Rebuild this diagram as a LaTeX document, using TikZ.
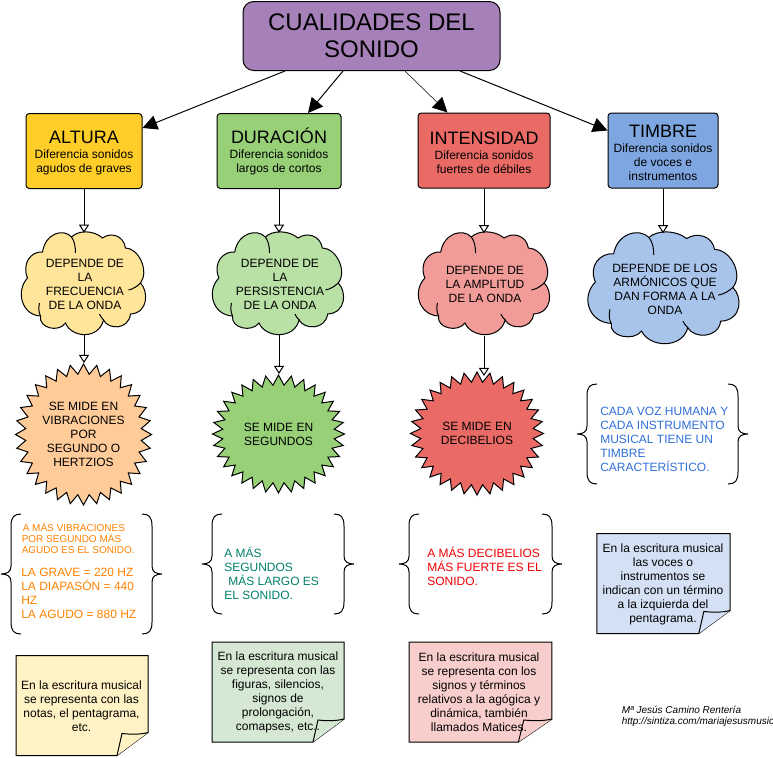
\documentclass[tikz,border=0pt]{standalone}
\usepackage{fontspec}
\setmainfont{Liberation Sans}
\usetikzlibrary{arrows.meta,shapes.symbols}

\definecolor{moradoT}{HTML}{A680B8}
\definecolor{amarilloC}{HTML}{FFCD28}
\definecolor{verdeC}{HTML}{97D077}
\definecolor{rojoC}{HTML}{EA6B66}
\definecolor{azulC}{HTML}{7EA6E0}
\definecolor{amarilloN}{HTML}{FFE599}
\definecolor{verdeN}{HTML}{B9E0A5}
\definecolor{rojoN}{HTML}{F19C99}
\definecolor{azulN}{HTML}{A9C4EB}
\definecolor{naranjaE}{HTML}{FFCC99}
\definecolor{amarilloP}{HTML}{FFF2C4}
\definecolor{verdeP}{HTML}{D5E8D4}
\definecolor{rojoP}{HTML}{F8CECC}
\definecolor{azulP}{HTML}{D4E1F5}
\definecolor{naranjaT}{HTML}{FF8000}
\definecolor{verdeT}{HTML}{00806A}
\definecolor{rojoT}{HTML}{F00000}
\definecolor{azulT}{HTML}{2F6FD8}

\newcommand{\cuerpo}{\fontsize{9}{10.5}\selectfont}
\newcommand{\cabeza}[1]{{\fontsize{13.5}{13.5}\selectfont\rule{0pt}{12.7pt}#1}}

\tikzset{
  titulo/.style={draw,rounded corners=8pt,line width=0.75pt,fill=moradoT,align=center,
    minimum width=192.75pt,minimum height=51.75pt,inner sep=0pt,
    font=\fontsize{18}{20.5}\selectfont},
  caja/.style={draw,rounded corners=2.5pt,line width=0.75pt,align=center,
    minimum height=56.25pt,inner sep=0pt,font=\cuerpo},
  nubetexto/.style={align=center,minimum height=76.5pt,inner sep=0pt,font=\cuerpo},
  estrella/.style={starburst,random starburst=0,starburst points=32,starburst point height=7.5pt,
    draw,line width=0.75pt,align=center,inner sep=0pt,font=\cuerpo},
  notatexto/.style={align=center,inner sep=0pt,font=\cuerpo},
  llavetexto/.style={align=left,anchor=west,inner sep=0pt,font=\cuerpo},
  flecha/.style={-{Triangle[length=11pt,width=11pt]},line width=0.75pt},
  flechab/.style={-{Triangle[length=6pt,width=7.5pt,fill=white]},line width=0.75pt},
  nube/.pic={
    \path[pic actions,draw,line width=0.75pt] (-12,-46) .. controls (-5,-53) and (10,-53) .. (19,-45)
      .. controls (27,-51) and (40,-48) .. (42,-35)
      .. controls (55,-35) and (66,-12) .. (57,0)
      .. controls (65,8) and (65,30) .. (47,31)
      .. controls (45,47) and (25,47) .. (20,37)
      .. controls (15,57) and (-12,55) .. (-18,40)
      .. controls (-25,50) and (-45,45) .. (-43,33)
      .. controls (-62,32) and (-68,8) .. (-56,-5)
      .. controls (-62,-20) and (-52,-32) .. (-41,-31)
      .. controls (-38,-50) and (-20,-55) .. cycle;
    \draw[line width=0.75pt] (-12,-46) .. controls (-9,-42) and (-8,-36) .. (-8,-30);
    \draw[line width=0.75pt] (57,0) .. controls (54,3) and (50,6) .. (45,7);
    \draw[line width=0.75pt] (20,37) .. controls (18,35) and (17,33) .. (16,31);
    \draw[line width=0.75pt] (-43,33) .. controls (-45,29) and (-45,24) .. (-44,20);
  },
  nota/.pic={
    \path[pic actions,draw,line width=0.75pt] (-66,-50) -- (66,-50) -- (66,27) -- (35,50) -- (-66,50) -- cycle;
    \path[pic actions,draw,line width=0.75pt] (66,27) .. controls (58,29) and (50,29) .. (40,28) -- (35,50);
  }
}

% las dos llaves de un bloque: izquierda, arriba, derecha, abajo
\newcommand{\llaves}[4]{
  \draw[line width=0.75pt] (#1+10,#2) .. controls (#1+3,#2) and (#1,#2+3) .. (#1,#2+12)
    -- (#1,{(#2+#4)/2-8}) .. controls (#1,{(#2+#4)/2-2}) and (#1-4,{(#2+#4)/2}) .. (#1-10,{(#2+#4)/2})
    .. controls (#1-4,{(#2+#4)/2}) and (#1,{(#2+#4)/2+2}) .. (#1,{(#2+#4)/2+8})
    -- (#1,#4-12) .. controls (#1,#4-3) and (#1+3,#4) .. (#1+10,#4);
  \draw[line width=0.75pt] (#3-10,#2) .. controls (#3-3,#2) and (#3,#2+3) .. (#3,#2+12)
    -- (#3,{(#2+#4)/2-8}) .. controls (#3,{(#2+#4)/2-2}) and (#3+4,{(#2+#4)/2}) .. (#3+10,{(#2+#4)/2})
    .. controls (#3+4,{(#2+#4)/2}) and (#3,{(#2+#4)/2+2}) .. (#3,{(#2+#4)/2+8})
    -- (#3,#4-12) .. controls (#3,#4-3) and (#3-3,#4) .. (#3-10,#4);
}

\begin{document}
\begin{tikzpicture}
  [x=0.75pt,y=-0.75pt]
  \useasboundingbox (0,0) rectangle (773,757);

  \node[titulo] (cualidades) at (371.5,36) {CUALIDADES DEL\\SONIDO};

  \node[caja,fill=amarilloC,minimum width=87pt] (altura) at (84,151) {\cabeza{ALTURA}\\[1pt]Diferencia sonidos\\agudos de graves};
  \node[caja,fill=verdeC,minimum width=93pt] (duracion) at (279,151) {\cabeza{DURACIÓN}\\[1pt]Diferencia sonidos\\largos de cortos};
  \node[caja,fill=rojoC,minimum width=99pt] (intensidad) at (484,150.5) {\cabeza{INTENSIDAD}\\[1pt]Diferencia sonidos\\fuertes de débiles};
  \node[caja,fill=azulC,minimum width=82.5pt] (timbre) at (663,150.5) {\cabeza{TIMBRE}\\[1pt]Diferencia sonidos\\de voces e\\instrumentos};

  % nubes
  \pic[fill=amarilloN,xscale=1.0] at (83.5,283) {nube};
  \pic[fill=verdeN,xscale=1.056] at (278,283) {nube};
  \pic[fill=rojoN,xscale=1.056] at (484,283) {nube};
  \pic[fill=azulN,xscale=1.216,yscale=1.088] at (663.5,287.5) {nube};
  \node[nubetexto] (nube1) at (85,284) {DEPENDE DE\\LA\\FRECUENCIA\\DE LA ONDA};
  \node[nubetexto] (nube2) at (280,284) {DEPENDE DE\\LA\\PERSISTENCIA\\DE LA ONDA};
  \node[nubetexto] (nube3) at (485,284.5) {DEPENDE DE\\LA AMPLITUD\\DE LA ONDA};
  \node[nubetexto,minimum height=83.25pt] (nube4) at (665,289) {DEPENDE DE LOS\\ARMÓNICOS QUE\\DAN FORMA A LA\\ONDA};

  % estrellas
  \node[estrella,fill=naranjaE,minimum width=99pt,minimum height=105.75pt] (estrella1) at (83.5,434.5) {SE MIDE EN\\VIBRACIONES\\POR\\SEGUNDO O\\HERTZIOS};
  \node[estrella,fill=verdeC,minimum width=99pt,minimum height=88.5pt] (estrella2) at (278.5,434) {SE MIDE EN\\SEGUNDOS};
  \node[estrella,fill=rojoC,minimum width=99.75pt,minimum height=92.25pt] (estrella3) at (477,433.5) {SE MIDE EN\\DECIBELIOS};

  \draw[flecha] ([shift={(-86.5,0)}]cualidades.south) -- ([shift={(0,-23)}]altura.east);
  \draw[flecha] ([shift={(-28.5,0)}]cualidades.south) -- ([shift={(29,0)}]duracion.north);
  \draw[flecha,line width=0.4pt] ([shift={(33.5,0)}]cualidades.south) -- ([shift={(-36.5,0)}]intensidad.north);
  \draw[flecha] ([shift={(88.5,0)}]cualidades.south) -- ([shift={(0,-20)}]timbre.west);

  \draw[flechab] (altura.south) -- (altura.south |- nube1.north);
  \draw[flechab] (duracion.south) -- (duracion.south |- nube2.north);
  \draw[flechab] (intensidad.south) -- (intensidad.south |- nube3.north);
  \draw[flechab] (timbre.south) -- (timbre.south |- nube4.north);
  \draw[flechab] (altura.south |- nube1.south) -- (altura.south |- estrella1.north);
  \draw[flechab] (duracion.south |- nube2.south) -- (duracion.south |- estrella2.north);
  \draw[flechab] (intensidad.south |- nube3.south) -- ([shift={(0,5)}]intensidad.south |- estrella3.north);

  % llaves
  \llaves{11}{514}{152}{634}
  \llaves{212}{514}{344}{614}
  \llaves{409}{514}{552}{614}
  \llaves{587}{384}{738}{484}
  \node[llavetexto,text=naranjaT,font=\fontsize{7.5}{8.25}\selectfont] (frase1) at (21.5,538) {\hspace{0.75pt}A MÁS VIBRACIONES\\POR SEGUNDO MÁS\\AGUDO ES EL SONIDO.};
  \node[llavetexto,text=naranjaT] at (21,593) (notas1) {LA GRAVE = 220 HZ\\LA DIAPASÓN = 440\\HZ\\LA AGUDO = 880 HZ};
  \node[llavetexto,text=verdeT] (frase2) at (224,573) {A MÁS\\SEGUNDOS\\\hspace{3pt}MÁS LARGO ES\\EL SONIDO.};
  \node[llavetexto,text=rojoT] (frase3) at (427,566) {A MÁS DECIBELIOS\\MÁS FUERTE ES EL\\SONIDO.};
  \node[llavetexto,text=azulT] (frase4) at (600,439) {CADA VOZ HUMANA Y\\CADA INSTRUMENTO\\MUSICAL TIENE UN\\TIMBRE\\CARACTERÍSTICO.};

  % notas
  \pic[fill=amarilloP] at (82,705.5) {nota};
  \pic[fill=verdeP] at (278,692) {nota};
  \pic[fill=rojoP,xscale=1.083] at (480.5,692) {nota};
  \pic[fill=azulP,xscale=1.008] at (663.5,583.5) {nota};
  \node[notatexto] (nota1) at (81.5,706) {En la escritura musical\\se representa con las\\notas, el pentagrama,\\etc.};
  \node[notatexto] (nota2) at (278,692) {En la escritura musical\\se representa con las\\figuras, silencios,\\signos de\\prolongación,\\comapses, etc..};
  \node[notatexto] (nota3) at (479,692) {En la escritura musical\\se representa con los\\signos y términos\\relativos a la agógica y\\dinámica, también\\llamados Matices.};
  \node[notatexto] (nota4) at (663,584) {En la escritura musical\\las voces o\\instrumentos se\\indican con un término\\a la izquierda del\\pentagrama.};

  \node[llavetexto,font=\fontsize{7.5}{8.6}\selectfont\itshape] (autora) at (621.5,716.5) {Mª Jesús Camino Rentería\\http://sintiza.com/mariajesusmusic};
\end{tikzpicture}
\end{document}
